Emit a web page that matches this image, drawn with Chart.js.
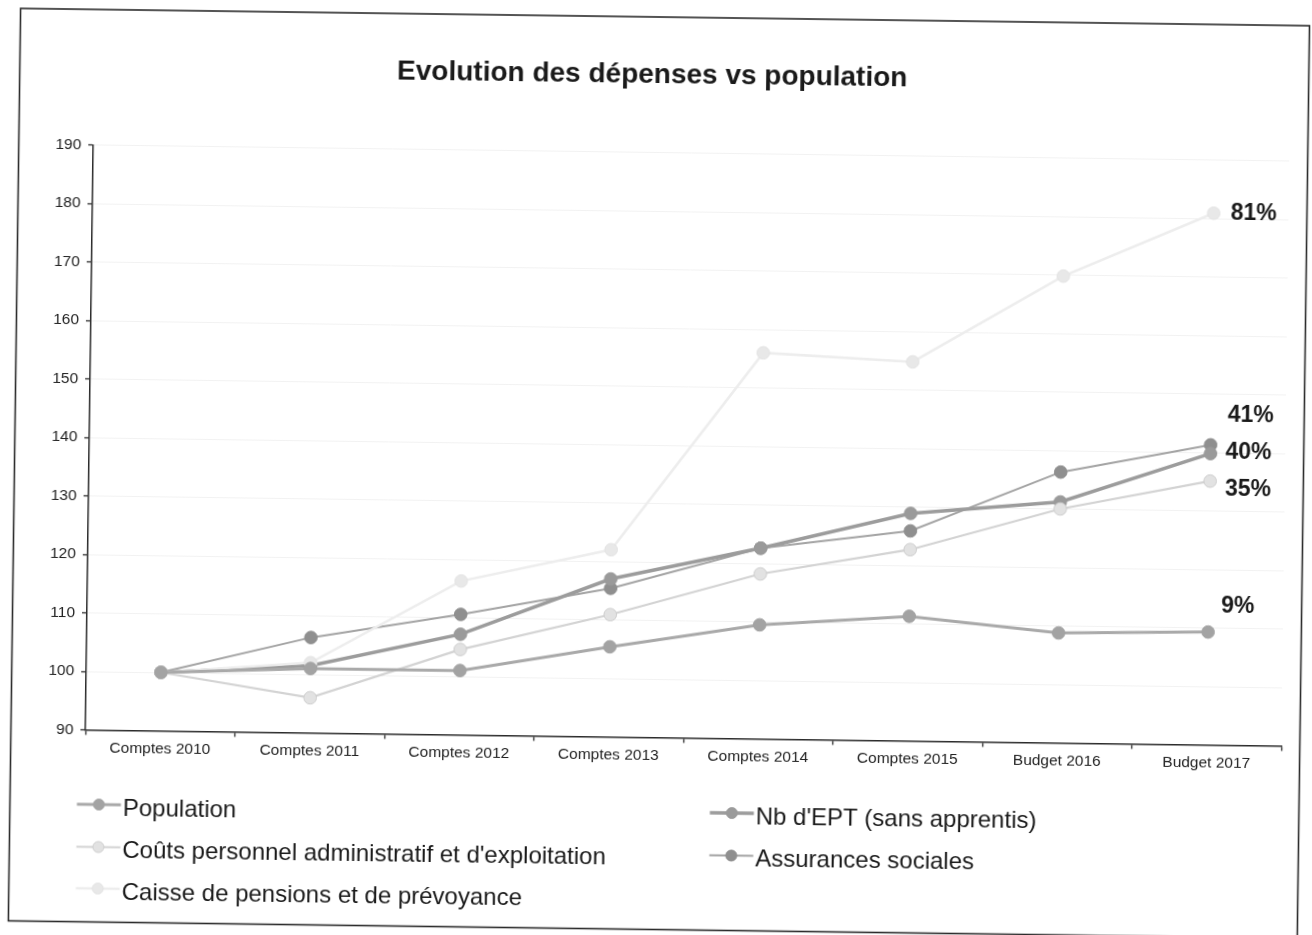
<!DOCTYPE html>
<html>
<head>
<meta charset="utf-8">
<script src="https://cdn.jsdelivr.net/npm/chart.js@4.4.1/dist/chart.umd.min.js"></script>
<style>
html,body{margin:0;padding:0;background:#fff;overflow:hidden;width:1312px;height:935px;}
#wrap{position:absolute;left:0;top:0;width:1312px;height:935px;transform:rotate(0.77deg);transform-origin:656px 467.5px;}
canvas{display:block;}
</style>
</head>
<body>
<div id="wrap"><canvas id="c" width="1312" height="935"></canvas></div>
<script>
// ---- data ----
const chartTitle = 'Evolution des dépenses vs population';
const categories = ['Comptes 2010', 'Comptes 2011', 'Comptes 2012', 'Comptes 2013', 'Comptes 2014', 'Comptes 2015', 'Budget 2016', 'Budget 2017'];
const yTickValues = [90, 100, 110, 120, 130, 140, 150, 160, 170, 180, 190];
const seriesNames = ['Population', 'Coûts personnel administratif et d\'exploitation', 'Caisse de pensions et de prévoyance', 'Nb d\'EPT (sans apprentis)', 'Assurances sociales'];
const population         = [100, 101.0, 101.0, 105.4, 109.5, 111.3, 108.8, 109.3];
const coutsPersonnel     = [100,  96.0, 104.6, 110.9, 118.2, 122.7, 130.0, 135.1];
const caissePensions     = [100, 102.0, 116.3, 122.0, 156.0, 154.8, 169.8, 180.9];
const nbEpt              = [100, 101.5, 107.2, 117.0, 122.6, 128.9, 131.2, 139.8];
const assurancesSociales = [100, 106.3, 110.6, 115.4, 122.6, 125.9, 136.3, 141.3];
const baseValue = 100;

// ---- styles ----
const FONT = '"Liberation Sans", Arial, Helvetica, sans-serif';
const styles = [
  {line:'#a9a9a9', width:3,   fill:'#a3a3a3', border:'#a3a3a3'},
  {line:'#d3d3d3', width:2.2, fill:'#e2e2e2', border:'#cdcdcd'},
  {line:'#ededed', width:2.5, fill:'#e8e8e8', border:'#e3e3e3'},
  {line:'#9c9c9c', width:3.5, fill:'#9a9a9a', border:'#9a9a9a'},
  {line:'#a4a4a4', width:2,   fill:'#8f8f8f', border:'#8f8f8f'}
];
const seriesValues = [population, coutsPersonnel, caissePensions, nbEpt, assurancesSociales];

// end-label placement relative to last point (dx, dy)
const endLabelOffsets = [
  {dx:12.7, dy:-25.7},
  {dx:15,   dy:7.8},
  {dx:17,   dy:0},
  {dx:15,   dy:-1.3},
  {dx:16.7, dy:-29.6}
];
// legend layout
const legendCols = [103.5, 736.5];
const legendRows = [822.5, 865, 906.5];
const legendSlots = [[0,0],[0,1],[0,2],[1,0],[1,1]];

const decor = {
  id: 'decor',
  afterDraw(chart) {
    const ctx = chart.ctx;
    ctx.save();
    // frame
    ctx.strokeStyle = '#2b2b2b';
    ctx.lineWidth = 1.6;
    ctx.strokeRect(14.5, 17, 1289, 912.5);
    // title
    ctx.fillStyle = '#1a1a1a';
    ctx.font = 'bold 28px ' + FONT;
    ctx.textAlign = 'center';
    ctx.textBaseline = 'alphabetic';
    ctx.fillText(chartTitle, 647, 82.5);
    // legend
    chart.data.datasets.forEach((ds, i) => {
      const [c, r] = legendSlots[i];
      const cx = legendCols[c];
      const by = legendRows[r];
      const cy = by - 10.5;
      ctx.strokeStyle = ds.borderColor;
      ctx.lineWidth = ds.borderWidth;
      ctx.beginPath();
      ctx.moveTo(cx - 22, cy);
      ctx.lineTo(cx + 22, cy);
      ctx.stroke();
      ctx.beginPath();
      ctx.arc(cx, cy, 5.5, 0, Math.PI * 2);
      ctx.fillStyle = ds.pointBackgroundColor;
      ctx.fill();
      ctx.lineWidth = 1;
      ctx.strokeStyle = ds.pointBorderColor;
      ctx.stroke();
      ctx.fillStyle = '#1a1a1a';
      ctx.font = '24px ' + FONT;
      ctx.textAlign = 'left';
      ctx.textBaseline = 'alphabetic';
      ctx.fillText(ds.label, cx + 24, by);
    });
    // end labels
    ctx.font = 'bold 23px ' + FONT;
    ctx.textAlign = 'left';
    ctx.textBaseline = 'middle';
    ctx.fillStyle = '#1a1a1a';
    chart.data.datasets.forEach((ds, i) => {
      const meta = chart.getDatasetMeta(i);
      const n = ds.data.length;
      const pt = meta.data[n - 1];
      const txt = Math.round(ds.data[n - 1] - baseValue) + '%';
      const o = endLabelOffsets[i];
      ctx.fillText(txt, pt.x + o.dx, pt.y + o.dy);
    });
    ctx.restore();
  }
};

const datasets = seriesNames.map((name, i) => ({
  label: name,
  data: seriesValues[i],
  borderColor: styles[i].line,
  borderWidth: styles[i].width,
  pointBackgroundColor: styles[i].fill,
  pointBorderColor: styles[i].border,
  pointBorderWidth: 1,
  pointRadius: 6.3,
  tension: 0,
  fill: false
}));

new Chart(document.getElementById('c'), {
  type: 'line',
  data: { labels: categories, datasets: datasets },
  options: {
    responsive: false,
    animation: false,
    devicePixelRatio: 1,
    layout: { padding: { left: 14, right: 27, top: 152.5, bottom: 157.5 } },
    plugins: { legend: { display: false }, title: { display: false }, tooltip: { enabled: false } },
    scales: {
      x: {
        type: 'category',
        offset: true,
        grid: { display: true, drawOnChartArea: false, drawTicks: true, tickLength: 5, tickColor: '#2b2b2b', tickWidth: 1.3, offset: true },
        border: { display: true, color: '#2b2b2b', width: 1.5 },
        ticks: { color: '#1f1f1f', font: { family: FONT, size: 15.5 }, padding: 4, maxRotation: 0, autoSkip: false },
        afterFit(s) { s.height = 40; }
      },
      y: {
        min: 90, max: 190,
        afterBuildTicks(s) { s.ticks = yTickValues.map(v => ({ value: v })); },
        ticks: { color: '#1f1f1f', font: { family: FONT, size: 15.5 }, padding: 7 },
        grid: { color: '#f2f2f2', lineWidth: 1, tickColor: '#2b2b2b', tickLength: 5, tickWidth: 1.3 },
        border: { display: true, color: '#2b2b2b', width: 1.5 },
        afterFit(s) { s.width = 75; }
      }
    }
  },
  plugins: [decor]
});
</script>
</body>
</html>
